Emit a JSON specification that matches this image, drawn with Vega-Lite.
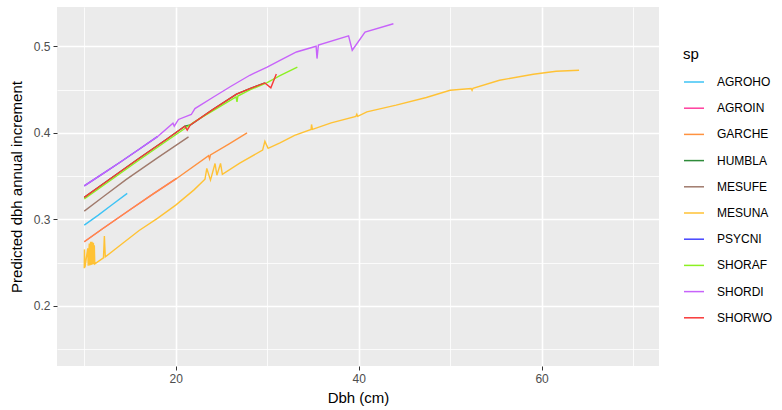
{
  "$schema": "https://vega.github.io/schema/vega-lite/v6.json",
  "width": 602,
  "height": 359,
  "autosize": {"type": "none"},
  "padding": {"left": 57, "top": 7, "right": 123, "bottom": 44},
  "background": "white",
  "config": {
    "font": "Liberation Sans",
    "view": {"fill": "#EBEBEB", "stroke": null}
  },
  "data": {
    "values": [
      {"sp": "AGROHO", "dbh": 10, "inc": 0.2933},
      {"sp": "AGROHO", "dbh": 11.5, "inc": 0.3045},
      {"sp": "AGROHO", "dbh": 13, "inc": 0.3165},
      {"sp": "AGROHO", "dbh": 14.7, "inc": 0.33},

      {"sp": "AGROIN", "dbh": 10, "inc": 0.274},
      {"sp": "AGROIN", "dbh": 12, "inc": 0.289},
      {"sp": "AGROIN", "dbh": 15, "inc": 0.311},
      {"sp": "AGROIN", "dbh": 17.5, "inc": 0.329},
      {"sp": "AGROIN", "dbh": 20.1, "inc": 0.3472},

      {"sp": "GARCHE", "dbh": 10, "inc": 0.274},
      {"sp": "GARCHE", "dbh": 12, "inc": 0.289},
      {"sp": "GARCHE", "dbh": 15, "inc": 0.311},
      {"sp": "GARCHE", "dbh": 17.5, "inc": 0.329},
      {"sp": "GARCHE", "dbh": 20.1, "inc": 0.3472},
      {"sp": "GARCHE", "dbh": 23.6, "inc": 0.3735},
      {"sp": "GARCHE", "dbh": 23.7, "inc": 0.37},
      {"sp": "GARCHE", "dbh": 23.8, "inc": 0.3745},
      {"sp": "GARCHE", "dbh": 25.8, "inc": 0.387},
      {"sp": "GARCHE", "dbh": 27.8, "inc": 0.4},

      {"sp": "HUMBLA", "dbh": 10, "inc": 0.3253},
      {"sp": "HUMBLA", "dbh": 13, "inc": 0.348},
      {"sp": "HUMBLA", "dbh": 16, "inc": 0.3705},
      {"sp": "HUMBLA", "dbh": 19, "inc": 0.3925},
      {"sp": "HUMBLA", "dbh": 21, "inc": 0.4076},
      {"sp": "HUMBLA", "dbh": 21.6, "inc": 0.409},
      {"sp": "HUMBLA", "dbh": 24, "inc": 0.4265},
      {"sp": "HUMBLA", "dbh": 26.65, "inc": 0.4446},
      {"sp": "HUMBLA", "dbh": 28.1, "inc": 0.4511},
      {"sp": "HUMBLA", "dbh": 29.75, "inc": 0.4576},

      {"sp": "MESUFE", "dbh": 10, "inc": 0.3095},
      {"sp": "MESUFE", "dbh": 12, "inc": 0.3255},
      {"sp": "MESUFE", "dbh": 14.6, "inc": 0.3461},
      {"sp": "MESUFE", "dbh": 18, "inc": 0.371},
      {"sp": "MESUFE", "dbh": 21.4, "inc": 0.3953},

      {"sp": "MESUNA", "dbh": 10, "inc": 0.2433},
      {"sp": "MESUNA", "dbh": 10.02, "inc": 0.2652},
      {"sp": "MESUNA", "dbh": 10.08, "inc": 0.2445},
      {"sp": "MESUNA", "dbh": 10.38, "inc": 0.2665},
      {"sp": "MESUNA", "dbh": 10.43, "inc": 0.2462},
      {"sp": "MESUNA", "dbh": 10.55, "inc": 0.272},
      {"sp": "MESUNA", "dbh": 10.6, "inc": 0.2465},
      {"sp": "MESUNA", "dbh": 10.7, "inc": 0.274},
      {"sp": "MESUNA", "dbh": 10.75, "inc": 0.2472},
      {"sp": "MESUNA", "dbh": 10.85, "inc": 0.274},
      {"sp": "MESUNA", "dbh": 10.9, "inc": 0.2478},
      {"sp": "MESUNA", "dbh": 11.0, "inc": 0.273},
      {"sp": "MESUNA", "dbh": 11.05, "inc": 0.248},
      {"sp": "MESUNA", "dbh": 11.1, "inc": 0.27},
      {"sp": "MESUNA", "dbh": 11.15, "inc": 0.2485},
      {"sp": "MESUNA", "dbh": 12.1, "inc": 0.2553},
      {"sp": "MESUNA", "dbh": 12.2, "inc": 0.2806},
      {"sp": "MESUNA", "dbh": 12.3, "inc": 0.2565},
      {"sp": "MESUNA", "dbh": 14, "inc": 0.2705},
      {"sp": "MESUNA", "dbh": 16, "inc": 0.287},
      {"sp": "MESUNA", "dbh": 18, "inc": 0.301},
      {"sp": "MESUNA", "dbh": 20, "inc": 0.3164},
      {"sp": "MESUNA", "dbh": 22, "inc": 0.334},
      {"sp": "MESUNA", "dbh": 23.2, "inc": 0.3464},
      {"sp": "MESUNA", "dbh": 23.4, "inc": 0.3588},
      {"sp": "MESUNA", "dbh": 23.8, "inc": 0.3453},
      {"sp": "MESUNA", "dbh": 24.3, "inc": 0.3645},
      {"sp": "MESUNA", "dbh": 24.5, "inc": 0.351},
      {"sp": "MESUNA", "dbh": 24.9, "inc": 0.3645},
      {"sp": "MESUNA", "dbh": 25.1, "inc": 0.352},
      {"sp": "MESUNA", "dbh": 27, "inc": 0.365},
      {"sp": "MESUNA", "dbh": 29.5, "inc": 0.38},
      {"sp": "MESUNA", "dbh": 29.75, "inc": 0.39},
      {"sp": "MESUNA", "dbh": 30.1, "inc": 0.382},
      {"sp": "MESUNA", "dbh": 31.4, "inc": 0.3884},
      {"sp": "MESUNA", "dbh": 33, "inc": 0.397},
      {"sp": "MESUNA", "dbh": 34.8, "inc": 0.4038},
      {"sp": "MESUNA", "dbh": 34.85, "inc": 0.4096},
      {"sp": "MESUNA", "dbh": 34.95, "inc": 0.404},
      {"sp": "MESUNA", "dbh": 37, "inc": 0.4115},
      {"sp": "MESUNA", "dbh": 39.7, "inc": 0.419},
      {"sp": "MESUNA", "dbh": 39.8, "inc": 0.4215},
      {"sp": "MESUNA", "dbh": 39.9, "inc": 0.419},
      {"sp": "MESUNA", "dbh": 40.9, "inc": 0.4241},
      {"sp": "MESUNA", "dbh": 44.1, "inc": 0.4319},
      {"sp": "MESUNA", "dbh": 47.4, "inc": 0.4408},
      {"sp": "MESUNA", "dbh": 50, "inc": 0.4492},
      {"sp": "MESUNA", "dbh": 52.3, "inc": 0.4512},
      {"sp": "MESUNA", "dbh": 52.4, "inc": 0.449},
      {"sp": "MESUNA", "dbh": 52.5, "inc": 0.4515},
      {"sp": "MESUNA", "dbh": 55.4, "inc": 0.4607},
      {"sp": "MESUNA", "dbh": 59.1, "inc": 0.4677},
      {"sp": "MESUNA", "dbh": 61.6, "inc": 0.4711},
      {"sp": "MESUNA", "dbh": 64.1, "inc": 0.4723},

      {"sp": "PSYCNI", "dbh": 10, "inc": 0.3387},
      {"sp": "PSYCNI", "dbh": 12, "inc": 0.3525},
      {"sp": "PSYCNI", "dbh": 14, "inc": 0.3665},
      {"sp": "PSYCNI", "dbh": 16, "inc": 0.381},
      {"sp": "PSYCNI", "dbh": 18, "inc": 0.3955},

      {"sp": "SHORAF", "dbh": 10, "inc": 0.3235},
      {"sp": "SHORAF", "dbh": 13, "inc": 0.346},
      {"sp": "SHORAF", "dbh": 16, "inc": 0.3685},
      {"sp": "SHORAF", "dbh": 19, "inc": 0.3905},
      {"sp": "SHORAF", "dbh": 21, "inc": 0.405},
      {"sp": "SHORAF", "dbh": 22, "inc": 0.4125},
      {"sp": "SHORAF", "dbh": 24, "inc": 0.425},
      {"sp": "SHORAF", "dbh": 26.6, "inc": 0.4415},
      {"sp": "SHORAF", "dbh": 26.7, "inc": 0.4357},
      {"sp": "SHORAF", "dbh": 26.8, "inc": 0.4425},
      {"sp": "SHORAF", "dbh": 28.1, "inc": 0.4495},
      {"sp": "SHORAF", "dbh": 30, "inc": 0.458},
      {"sp": "SHORAF", "dbh": 31.4, "inc": 0.466},
      {"sp": "SHORAF", "dbh": 33.3, "inc": 0.476},

      {"sp": "SHORDI", "dbh": 10, "inc": 0.3387},
      {"sp": "SHORDI", "dbh": 12, "inc": 0.3525},
      {"sp": "SHORDI", "dbh": 14, "inc": 0.3665},
      {"sp": "SHORDI", "dbh": 16, "inc": 0.381},
      {"sp": "SHORDI", "dbh": 18, "inc": 0.3955},
      {"sp": "SHORDI", "dbh": 19.7, "inc": 0.411},
      {"sp": "SHORDI", "dbh": 19.84, "inc": 0.4076},
      {"sp": "SHORDI", "dbh": 20.3, "inc": 0.4154},
      {"sp": "SHORDI", "dbh": 21.7, "inc": 0.4211},
      {"sp": "SHORDI", "dbh": 22.1, "inc": 0.428},
      {"sp": "SHORDI", "dbh": 24, "inc": 0.4405},
      {"sp": "SHORDI", "dbh": 26, "inc": 0.4535},
      {"sp": "SHORDI", "dbh": 28.1, "inc": 0.4665},
      {"sp": "SHORDI", "dbh": 30, "inc": 0.476},
      {"sp": "SHORDI", "dbh": 31.4, "inc": 0.4838},
      {"sp": "SHORDI", "dbh": 33.2, "inc": 0.4934},
      {"sp": "SHORDI", "dbh": 35.35, "inc": 0.5},
      {"sp": "SHORDI", "dbh": 35.45, "inc": 0.4858},
      {"sp": "SHORDI", "dbh": 35.6, "inc": 0.5015},
      {"sp": "SHORDI", "dbh": 38.9, "inc": 0.512},
      {"sp": "SHORDI", "dbh": 39.3, "inc": 0.4954},
      {"sp": "SHORDI", "dbh": 40.7, "inc": 0.5165},
      {"sp": "SHORDI", "dbh": 43.8, "inc": 0.526},

      {"sp": "SHORWO", "dbh": 10, "inc": 0.3253},
      {"sp": "SHORWO", "dbh": 13, "inc": 0.348},
      {"sp": "SHORWO", "dbh": 16, "inc": 0.3705},
      {"sp": "SHORWO", "dbh": 19, "inc": 0.3925},
      {"sp": "SHORWO", "dbh": 21, "inc": 0.4076},
      {"sp": "SHORWO", "dbh": 21.26, "inc": 0.403},
      {"sp": "SHORWO", "dbh": 21.6, "inc": 0.409},
      {"sp": "SHORWO", "dbh": 24, "inc": 0.4265},
      {"sp": "SHORWO", "dbh": 26.65, "inc": 0.4446},
      {"sp": "SHORWO", "dbh": 28.1, "inc": 0.4511},
      {"sp": "SHORWO", "dbh": 29.75, "inc": 0.4576},
      {"sp": "SHORWO", "dbh": 30.4, "inc": 0.452},
      {"sp": "SHORWO", "dbh": 31.0, "inc": 0.468}
    ]
  },
  "mark": {"type": "line", "strokeWidth": 1.4, "clip": true},
  "encoding": {
    "x": {
      "field": "dbh",
      "type": "quantitative",
      "scale": {"domain": [7.02, 72.84], "nice": false, "zero": false},
      "axis": {
        "title": "Dbh (cm)",
        "values": [10, 20, 30, 40, 50, 60, 70],
        "labelExpr": "datum.value % 20 == 0 ? datum.label : ''",
        "domain": false,
        "grid": true,
        "gridColor": "white",
        "gridWidth": {"condition": {"test": "datum.value % 20 == 0", "value": 1.6}, "value": 0.8},
        "tickColor": "#333333",
        "tickSize": 4,
        "tickWidth": 1,
        "tickOpacity": {"condition": {"test": "datum.value % 20 == 0", "value": 1}, "value": 0},
        "labelColor": "#4D4D4D",
        "labelFontSize": 12,
        "labelPadding": 3,
        "titleFontSize": 15,
        "titleFontWeight": "normal",
        "titleColor": "black",
        "titlePadding": 6
      }
    },
    "y": {
      "field": "inc",
      "type": "quantitative",
      "scale": {"domain": [0.1304, 0.5454], "nice": false, "zero": false},
      "axis": {
        "title": "Predicted dbh annual increment",
        "values": [0.15, 0.2, 0.25, 0.3, 0.35, 0.4, 0.45, 0.5],
        "labelExpr": "round(datum.value * 100) % 10 == 0 ? format(datum.value, '.1f') : ''",
        "domain": false,
        "grid": true,
        "gridColor": "white",
        "gridWidth": {"condition": {"test": "round(datum.value * 100) % 10 == 0", "value": 1.6}, "value": 0.8},
        "tickColor": "#333333",
        "tickSize": 4,
        "tickWidth": 1,
        "tickOpacity": {"condition": {"test": "round(datum.value * 100) % 10 == 0", "value": 1}, "value": 0},
        "labelColor": "#4D4D4D",
        "labelFontSize": 12,
        "labelPadding": 3,
        "titleFontSize": 15,
        "titleFontWeight": "normal",
        "titleColor": "black",
        "titlePadding": 9
      }
    },
    "color": {
      "field": "sp",
      "type": "nominal",
      "scale": {
        "domain": ["AGROHO", "AGROIN", "GARCHE", "HUMBLA", "MESUFE", "MESUNA", "PSYCNI", "SHORAF", "SHORDI", "SHORWO"],
        "range": ["#3EC3F5", "#FF3E9E", "#FF9240", "#2E8B3A", "#A07A6C", "#FFC235", "#4444FF", "#8CF022", "#C763FA", "#F83838"]
      },
      "legend": {
        "orient": "none",
        "legendX": 626,
        "legendY": 40,
        "title": "sp",
        "titleFontSize": 15,
        "titleFontWeight": "normal",
        "titleColor": "black",
        "titlePadding": 9,
        "symbolType": "stroke",
        "symbolSize": 400,
        "symbolStrokeWidth": 1.5,
        "labelFontSize": 12,
        "labelColor": "black",
        "labelOffset": 12,
        "rowPadding": 9.2
      }
    }
  }
}
